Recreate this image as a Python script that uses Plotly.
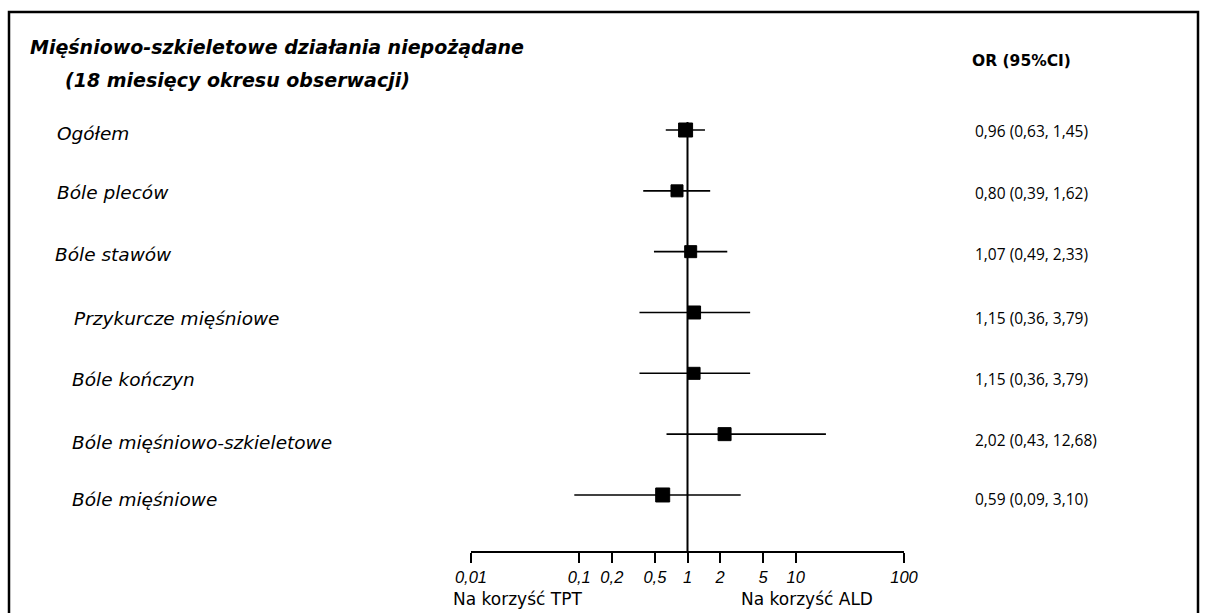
import plotly.graph_objects as go

# ---- data ----
categories = ["Ogółem", "Bóle pleców", "Bóle stawów", "Przykurcze mięśniowe",
              "Bóle kończyn", "Bóle mięśniowo-szkieletowe", "Bóle mięśniowe"]
or_values = [0.96, 0.80, 1.07, 1.15, 1.15, 2.2, 0.59]
ci_low = [0.63, 0.39, 0.49, 0.36, 0.36, 0.64, 0.09]
ci_high = [1.45, 1.62, 2.33, 3.79, 3.79, 19.0, 3.10]
or_labels = ["0,96 (0,63, 1,45)", "0,80 (0,39, 1,62)", "1,07 (0,49, 2,33)",
             "1,15 (0,36, 3,79)", "1,15 (0,36, 3,79)", "2,02 (0,43, 12,68)",
             "0,59 (0,09, 3,10)"]
tick_values = [0.01, 0.1, 0.2, 0.5, 1, 2, 5, 10, 100]
tick_labels = ["0,01", "0,1", "0,2", "0,5", "1", "2", "5", "10", "100"]
marker_sizes = [14, 12, 12, 13, 12, 13, 14]

W, H = 1208, 613
AX_L, AX_R = 471, 904      # pixel span of the x axis (0.01 .. 100)
PLOT_TOP, AX_Y = 122, 551  # top of vertical line, y of x-axis line
ROW0, ROWSTEP = 130, 60.83

rows = list(range(len(categories)))
y_top = 0 - (ROW0 - PLOT_TOP) / ROWSTEP
y_bot = 0 + (AX_Y - ROW0) / ROWSTEP


def px_x(p):
    return (p - AX_L) / (AX_R - AX_L)


def px_y(p):
    return (AX_Y - p) / (AX_Y - PLOT_TOP)


fig = go.Figure()
fig.add_trace(go.Scatter(
    x=or_values, y=rows, mode="markers", opacity=1,
    marker=dict(symbol="square", size=marker_sizes, color="black",
                opacity=1, line=dict(width=1, color="black")),
    error_x=dict(type="data", symmetric=False,
                 array=[h - o for h, o in zip(ci_high, or_values)],
                 arrayminus=[o - l for o, l in zip(or_values, ci_low)],
                 color="black", thickness=1.6, width=0),
    showlegend=False, hoverinfo="skip", cliponaxis=False))

# vertical reference line at OR = 1
fig.add_shape(type="line", xref="x", yref="paper", x0=1, x1=1, y0=0, y1=1,
              line=dict(color="black", width=2))

annots = []
label_font = dict(family="DejaVu Sans", size=18.5, color="black", style="italic")
label_x = [55, 55, 53, 72, 70, 70, 70]
label_y = [133, 193, 254, 318, 379, 442, 499]
for cat, lx, ly in zip(categories, label_x, label_y):
    annots.append(dict(text=cat, xref="paper", yref="paper",
                       x=px_x(lx), y=px_y(ly),
                       xanchor="left", yanchor="middle", showarrow=False,
                       font=label_font))
value_y = [131, 193, 254, 318, 379, 440, 499]
for lab, vy in zip(or_labels, value_y):
    annots.append(dict(text=lab, xref="paper", yref="paper",
                       x=px_x(973), y=px_y(vy),
                       xanchor="left", yanchor="middle", showarrow=False,
                       font=dict(family="Open Sans", size=15.5, color="black")))

annots.append(dict(text="<b><i>Mięśniowo-szkieletowe działania niepożądane</i></b>",
                   xref="paper", yref="paper", x=px_x(28), y=px_y(47),
                   xanchor="left", yanchor="middle", showarrow=False,
                   font=dict(family="DejaVu Sans", size=19, color="black")))
annots.append(dict(text="<b><i>(18 miesięcy okresu obserwacji)</i></b>",
                   xref="paper", yref="paper", x=px_x(63), y=px_y(80),
                   xanchor="left", yanchor="middle", showarrow=False,
                   font=dict(family="DejaVu Sans", size=19, color="black")))
annots.append(dict(text="<b>OR (95%CI)</b>",
                   xref="paper", yref="paper", x=px_x(970), y=px_y(61),
                   xanchor="left", yanchor="middle", showarrow=False,
                   font=dict(family="DejaVu Sans", size=15.5, color="black")))
annots.append(dict(text="Na korzyść TPT", xref="paper", yref="paper",
                   x=px_x(517), y=px_y(599), xanchor="center", yanchor="middle",
                   showarrow=False,
                   font=dict(family="DejaVu Sans", size=17, color="black")))
annots.append(dict(text="Na korzyść ALD", xref="paper", yref="paper",
                   x=px_x(807), y=px_y(599), xanchor="center", yanchor="middle",
                   showarrow=False,
                   font=dict(family="DejaVu Sans", size=17, color="black")))

# frame around the figure
fig.add_shape(type="path", xref="paper", yref="paper",
              path=f"M {px_x(9)},{px_y(640)} L {px_x(9)},{px_y(12)} "
                   f"L {px_x(1198)},{px_y(12)} L {px_x(1198)},{px_y(640)}",
              line=dict(color="black", width=2.5))

fig.update_layout(
    width=W, height=H,
    margin=dict(l=AX_L, r=W - AX_R, t=PLOT_TOP, b=H - AX_Y, pad=0),
    paper_bgcolor="white", plot_bgcolor="white",
    annotations=annots,
    xaxis=dict(type="log", range=[-2, 2], tickvals=tick_values,
               ticktext=tick_labels, showgrid=False, zeroline=False,
               showline=True, linecolor="black", linewidth=2,
               ticks="outside", ticklen=10, tickwidth=2, tickcolor="black",
               tickfont=dict(family="Liberation Sans", size=16.5, color="black",
                             style="italic"),
               fixedrange=True),
    yaxis=dict(range=[y_bot, y_top], visible=False, fixedrange=True),
)

fig.write_html("out.html")
